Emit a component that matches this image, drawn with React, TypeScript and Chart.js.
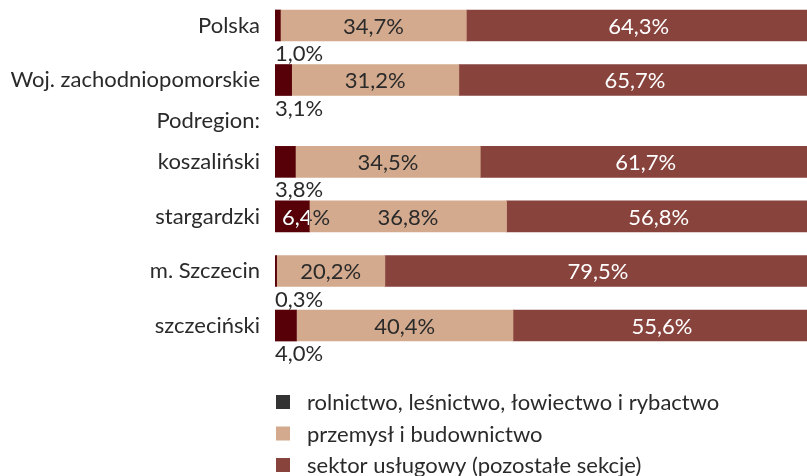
import React, { useEffect, useRef } from "react";
import { Chart, registerables } from "chart.js";

Chart.register(...registerables);

// ---- data ----
const regions = [
  "Polska",
  "Woj. zachodniopomorskie",
  "koszaliński",
  "stargardzki",
  "m. Szczecin",
  "szczeciński",
];
const agriculture = [1.0, 3.1, 3.8, 6.4, 0.3, 4.0];
const industry = [34.7, 31.2, 34.5, 36.8, 20.2, 40.4];
const services = [64.3, 65.7, 61.7, 56.8, 79.5, 55.6];
const seriesNames = [
  "rolnictwo, leśnictwo, łowiectwo i rybactwo",
  "przemysł i budownictwo",
  "sektor usługowy (pozostałe sekcje)",
];
const subheading = "Podregion:";

// ---- layout of the category axis (blank slots reproduce the gaps) ----
const SLOT_COUNT = 25;
const regionSlots = [1, 5, 11, 15, 19, 23];
const subheadingSlot = 8;

const barColors = ["#570008", "#D3AA8E", "#87433C"];
const legendColors = ["#333333", "#D3AA8E", "#87433C"];
const TEXT = "#2a2a2a";
const FONT_FAMILY = "Lato, 'Open Sans', sans-serif";
const FONT_SIZE = 22;

const fmt = (v: number) => v.toFixed(1).replace(".", ",") + "%";

function buildLabels(): string[] {
  const labels: string[] = new Array(SLOT_COUNT).fill("");
  regionSlots.forEach((s, i) => (labels[s] = regions[i]));
  labels[subheadingSlot] = subheading;
  return labels;
}

function spread(values: number[]): (number | null)[] {
  const arr: (number | null)[] = new Array(SLOT_COUNT).fill(null);
  regionSlots.forEach((s, i) => (arr[s] = values[i]));
  return arr;
}

const valueLabelsPlugin = {
  id: "valueLabels",
  afterDatasetsDraw(chart: any) {
    const ctx = chart.ctx;
    const xScale = chart.scales.x;
    ctx.save();
    ctx.font = `${FONT_SIZE}px ${FONT_FAMILY}`;
    chart.data.datasets.forEach((ds: any, di: number) => {
      const meta = chart.getDatasetMeta(di);
      meta.data.forEach((el: any, idx: number) => {
        const v = ds.data[idx];
        if (v === null || v === undefined) return;
        let start = 0;
        for (let k = 0; k < di; k++) start += chart.data.datasets[k].data[idx] || 0;
        const props = el.getProps(["x", "y", "base", "height"], true);
        const top = props.y - props.height / 2;
        const bottom = props.y + props.height / 2;
        const text = fmt(v);
        if (di === 0) {
          const x0 = xScale.getPixelForValue(0);
          if (v >= 5) {
            ctx.textAlign = "left";
            ctx.textBaseline = "middle";
            ctx.fillStyle = TEXT;
            ctx.fillText(text, x0 + 7, props.y + 1);
            ctx.save();
            ctx.beginPath();
            ctx.rect(x0, top, props.x - x0, props.height);
            ctx.clip();
            ctx.fillStyle = "#ffffff";
            ctx.fillText(text, x0 + 7, props.y + 1);
            ctx.restore();
          } else {
            ctx.textAlign = "left";
            ctx.textBaseline = "top";
            ctx.fillStyle = TEXT;
            ctx.fillText(text, x0, bottom + 2);
          }
        } else {
          const cx = xScale.getPixelForValue(start + v / 2);
          ctx.textAlign = "center";
          ctx.textBaseline = "middle";
          ctx.fillStyle = di === 1 ? TEXT : "#ffffff";
          ctx.fillText(text, cx, props.y + 1);
        }
      });
    });
    ctx.restore();
  },
};

const legendPlugin = {
  id: "customLegend",
  afterDraw(chart: any) {
    const ctx = chart.ctx;
    const area = chart.chartArea;
    const x = area.left;
    const firstY = area.bottom + 56;
    const step = 31.5;
    const box = 14;
    ctx.save();
    ctx.font = `${FONT_SIZE}px ${FONT_FAMILY}`;
    ctx.textAlign = "left";
    ctx.textBaseline = "middle";
    chart.data.datasets.forEach((ds: any, i: number) => {
      const cy = firstY + i * step;
      ctx.fillStyle = legendColors[i];
      ctx.fillRect(x + 1, cy - box / 2, box, box);
      ctx.fillStyle = TEXT;
      ctx.fillText(ds.label, x + 32, cy + 1);
    });
    ctx.restore();
  },
};

export default function App() {
  const canvasRef = useRef<HTMLCanvasElement | null>(null);

  useEffect(() => {
    document.body.style.margin = "0";
    let chart: Chart | null = null;
    let cancelled = false;

    const make = () => {
      if (cancelled || !canvasRef.current) return;
      const seriesValues = [agriculture, industry, services];
      chart = new Chart(canvasRef.current, {
        type: "bar",
        data: {
          labels: buildLabels(),
          datasets: seriesNames.map((name, i) => ({
            label: name,
            data: spread(seriesValues[i]),
            backgroundColor: barColors[i],
            borderWidth: 0,
            barThickness: 31,
          })),
        },
        options: {
          indexAxis: "y",
          responsive: false,
          animation: false,
          layout: { padding: { top: 5, bottom: 130, left: 0, right: 0 } },
          scales: {
            x: { stacked: true, min: 0, max: 99.25, display: false },
            y: {
              stacked: true,
              grid: { display: false, drawTicks: false },
              border: { display: false },
              ticks: {
                autoSkip: false,
                padding: 15,
                color: TEXT,
                font: { family: FONT_FAMILY, size: FONT_SIZE },
              },
              afterFit: (s: any) => {
                s.width = 275;
                s.paddingTop = 0;
                s.paddingBottom = 0;
              },
            },
          },
          plugins: {
            legend: { display: false },
            tooltip: { enabled: false },
          },
        } as any,
        plugins: [valueLabelsPlugin, legendPlugin],
      });
    };

    const fontsApi = (document as any).fonts;
    if (fontsApi && fontsApi.load) {
      fontsApi.load(`${FONT_SIZE}px Lato`).then(make, make);
    } else {
      make();
    }

    return () => {
      cancelled = true;
      if (chart) chart.destroy();
    };
  }, []);

  return (
    <div style={{ width: 807, height: 476 }}>
      <canvas ref={canvasRef} width={807} height={476} style={{ display: "block" }} />
    </div>
  );
}
